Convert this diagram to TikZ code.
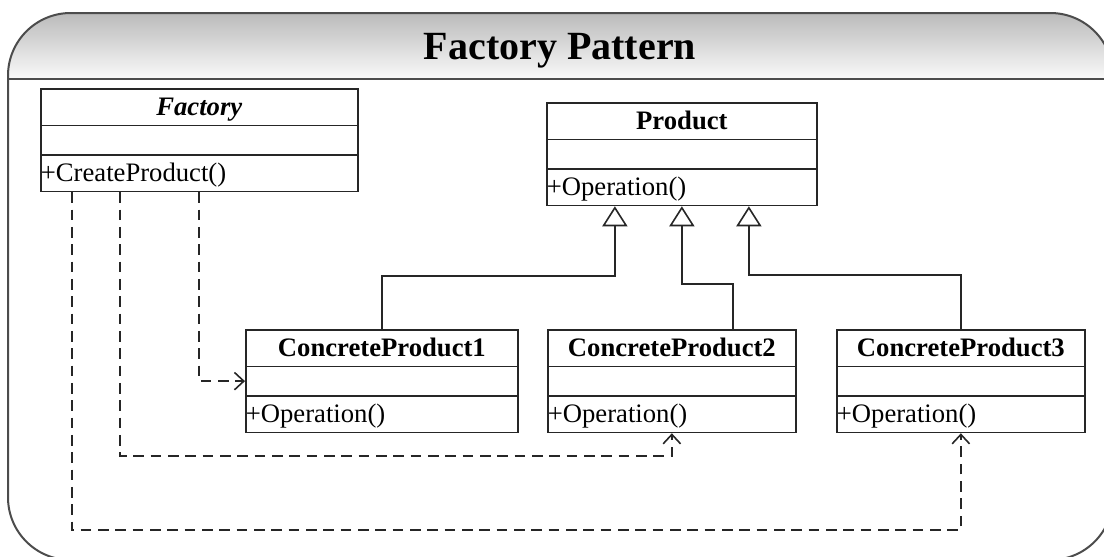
\documentclass[tikz,border=0pt]{standalone}
\usepackage{fontspec}
\setmainfont{Liberation Serif}
\usetikzlibrary{arrows.meta}
\usetikzlibrary{shapes.multipart}
\usetikzlibrary{positioning}
\tikzset{frame/.style = {draw=black!70, line width=1.5pt}}
\tikzset{ttl/.style = {font=\fontsize{30}{36}\selectfont\bfseries, inner sep=0}}
\tikzset{cls/.style = {draw=black!85, line width=1.3pt, rectangle split, rectangle split parts=3,
                       inner sep=0, anchor=north west, font=\fontsize{20}{21}\selectfont}}
\tikzset{dep/.style = {draw=black!85, line width=1.2pt, dash pattern=on 8pt off 5pt,
                       -{Straight Barb[length=7pt, width=13pt]}}}
\tikzset{inherit/.style = {draw=black!85, line width=1.2pt,
                           -{Triangle[open, length=15pt, width=18.75pt, fill=white]}}}
\newcommand{\clsbody}[3]{\makebox[#1][c]{\rule[-7.25pt]{0pt}{26.25pt}#2}%
  \nodepart{two}\rule{0pt}{20.5pt}%
  \nodepart{three}\makebox[#1][l]{\rule[-6.5pt]{0pt}{26.25pt}#3}}

\begin{document}
\begin{tikzpicture}[x=0.75pt, y=-0.75pt]
  \useasboundingbox (0, 0) rectangle (1104, 557);
  % frame with shaded title band
  \begin{scope}
    \clip [rounded corners=47pt] (8, 13) rectangle (1113, 560);
    \shade [top color=black!27, bottom color=black!2] (8, 13) rectangle (1113, 79);
  \end{scope}
  \draw [frame, rounded corners=47pt] (8, 13) rectangle (1113, 560);
  \draw [frame] (8, 79) -- (1113, 79);
  \node [ttl, anchor=base] (title) at (560, 59) {Factory Pattern};

  % classes
  \node [cls] (fac) at (40, 88) {\clsbody{237.75pt}{\textbf{\textit{Factory}}}{+CreateProduct()}};
  \node [cls] (prod) at (546, 102) {\clsbody{202.5pt}{\textbf{Product}}{+Operation()}};
  \node [cls] (cp1) at (245, 329) {\clsbody{204pt}{\textbf{ConcreteProduct1}}{+Operation()}};
  \node [cls] (cp2) at (547, 329) {\clsbody{186pt}{\textbf{ConcreteProduct2}}{+Operation()}};
  \node [cls] (cp3) at (836, 329) {\clsbody{186pt}{\textbf{ConcreteProduct3}}{+Operation()}};

  % generalisation
  \draw [inherit] (cp1.north) -- ++(0, -53) -| ([xshift=-50.25pt]prod.south);
  \draw [inherit] ([xshift=45.75pt]cp2.north) -- ++(0, -45) -| (prod.south);
  \draw [inherit] (cp3.north) -- ++(0, -54) -| ([xshift=50.25pt]prod.south);

  % dependencies
  \draw [dep] ([xshift=119.25pt]fac.south west) |- (cp1.west);
  \draw [dep] ([xshift=60pt]fac.south west) |- ([yshift=-17.25pt]cp2.south) -- (cp2.south);
  \draw [dep] ([xshift=24pt]fac.south west) |- ([yshift=-72.75pt]cp3.south) -- (cp3.south);
\end{tikzpicture}
\end{document}
